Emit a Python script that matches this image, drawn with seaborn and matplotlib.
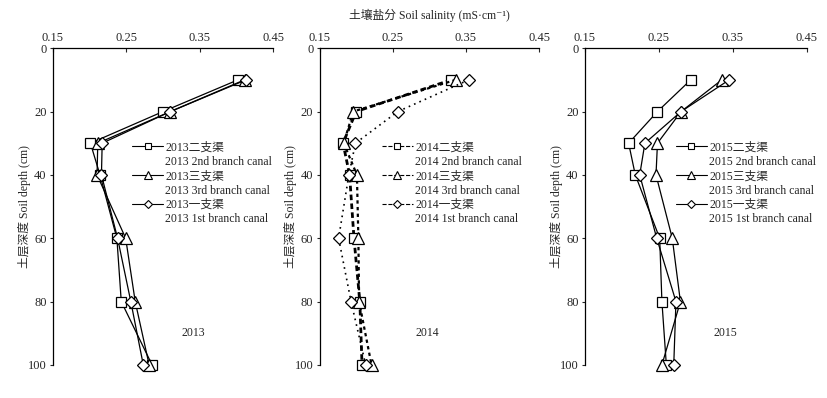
import matplotlib
matplotlib.use("Agg")
import matplotlib.pyplot as plt
from matplotlib.lines import Line2D
import seaborn as sns

# soil depth (cm) of each sample
depth = [10, 20, 30, 40, 60, 80, 100]

# soil salinity (mS/cm) per year and canal
sal_2013_2nd = [0.402, 0.300, 0.201, 0.214, 0.237, 0.243, 0.285]
sal_2013_3rd = [0.411, 0.310, 0.211, 0.210, 0.249, 0.262, 0.281]
sal_2013_1st = [0.413, 0.310, 0.217, 0.216, 0.238, 0.256, 0.273]

sal_2014_2nd = [0.330, 0.200, 0.182, 0.191, 0.197, 0.205, 0.208]
sal_2014_3rd = [0.336, 0.196, 0.183, 0.201, 0.203, 0.204, 0.221]
sal_2014_1st = [0.354, 0.257, 0.199, 0.190, 0.176, 0.193, 0.213]

sal_2015_2nd = [0.293, 0.248, 0.209, 0.218, 0.251, 0.254, 0.260]
sal_2015_3rd = [0.335, 0.280, 0.248, 0.246, 0.268, 0.279, 0.254]
sal_2015_1st = [0.345, 0.280, 0.231, 0.224, 0.247, 0.273, 0.270]

years = ["2013", "2014", "2015"]
canal_cn = ["二支渠", "三支渠", "一支渠"]
canal_en = ["2nd branch canal", "3rd branch canal", "1st branch canal"]
markers = ["s", "^", "D"]
x_ticks = [0.15, 0.25, 0.35, 0.45]
y_ticks = [0, 20, 40, 60, 80, 100]

series = {
    "2013": [sal_2013_2nd, sal_2013_3rd, sal_2013_1st],
    "2014": [sal_2014_2nd, sal_2014_3rd, sal_2014_1st],
    "2015": [sal_2015_2nd, sal_2015_3rd, sal_2015_1st],
}

sns.set_style("ticks")
FONT = ["Liberation Serif", "Noto Sans CJK SC", "DejaVu Serif"]
plt.rcParams["font.family"] = FONT
plt.rcParams["font.size"] = 8

# line styles for 2014 (dashed / dotted), others are solid
styles_2014 = [
    dict(lw=2.0, dashes=(2.0, 1.2)),
    dict(lw=1.6, dashes=(1.5, 1.5)),
    dict(lw=1.2, dashes=(1.0, 2.5)),
]
marker_sizes = [7.5, 8.5, 6.5]

fig = plt.figure(figsize=(8.28, 3.98), dpi=100)
panel_boxes = [
    [0.064, 0.083, 0.266, 0.796],
    [0.386, 0.083, 0.265, 0.796],
    [0.7065, 0.083, 0.268, 0.796],
]
legend_x = [0.36, 0.285, 0.41]
year_text_x = [0.341, 0.297, 0.340]

for i, year in enumerate(years):
    ax = fig.add_axes(panel_boxes[i])
    handles, labels = [], []
    for j, vals in enumerate(series[year]):
        if year == "2014":
            st = styles_2014[j]
        else:
            st = dict(lw=0.9, dashes=(1, 0))
        sns.lineplot(x=vals, y=depth, sort=False, estimator=None, ax=ax,
                     color="black", marker=markers[j], ms=marker_sizes[j],
                     mfc="white", mec="black", mew=0.9,
                     lw=st["lw"], dashes=st["dashes"], clip_on=False)
        ls = "--" if year == "2014" else "-"
        handles.append(Line2D([], [], color="black", lw=0.8, ls=ls,
                              marker=markers[j], ms=marker_sizes[j] * 0.65,
                              mfc="white", mec="black", mew=0.8))
        labels.append(f"{year}{canal_cn[j]}")
        handles.append(Line2D([], [], color="none"))
        labels.append(f"{year} {canal_en[j]}")

    ax.set_xlim(0.15, 0.45)
    ax.set_ylim(100, 0)
    ax.set_xticks(x_ticks)
    ax.set_xticklabels([f"{v:.2f}" for v in x_ticks])
    ax.set_yticks(y_ticks)
    ax.xaxis.tick_top()
    ax.tick_params(axis="x", direction="in", length=3, width=0.8, pad=3, labelsize=9)
    ax.tick_params(axis="y", direction="out", length=2.5, width=0.8, pad=2, labelsize=9)
    for side in ["right", "bottom"]:
        ax.spines[side].set_visible(False)
    for side in ["top", "left"]:
        ax.spines[side].set_linewidth(0.9)
        ax.spines[side].set_color("black")

    ax.set_ylabel("土层深度 Soil depth (cm)", fontsize=8.5, family=FONT, labelpad=-2)
    ax.set_xlabel("")
    if i == 1:
        ax.xaxis.set_label_position("top")
        ax.set_xlabel("土壤盐分 Soil salinity (mS·cm⁻¹)", fontsize=8.5,
                      family=FONT, labelpad=9)

    ax.text(year_text_x[i], 90, year, ha="center", va="center", fontsize=8.5)

    ax.legend(handles, labels, loc="upper left", bbox_to_anchor=(legend_x[i], 0.705),
              frameon=False, fontsize=8.5, handlelength=2.6, handletextpad=0.2,
              labelspacing=0.2, borderpad=0, borderaxespad=0)

fig.savefig("out.png", dpi=100, facecolor="white")
